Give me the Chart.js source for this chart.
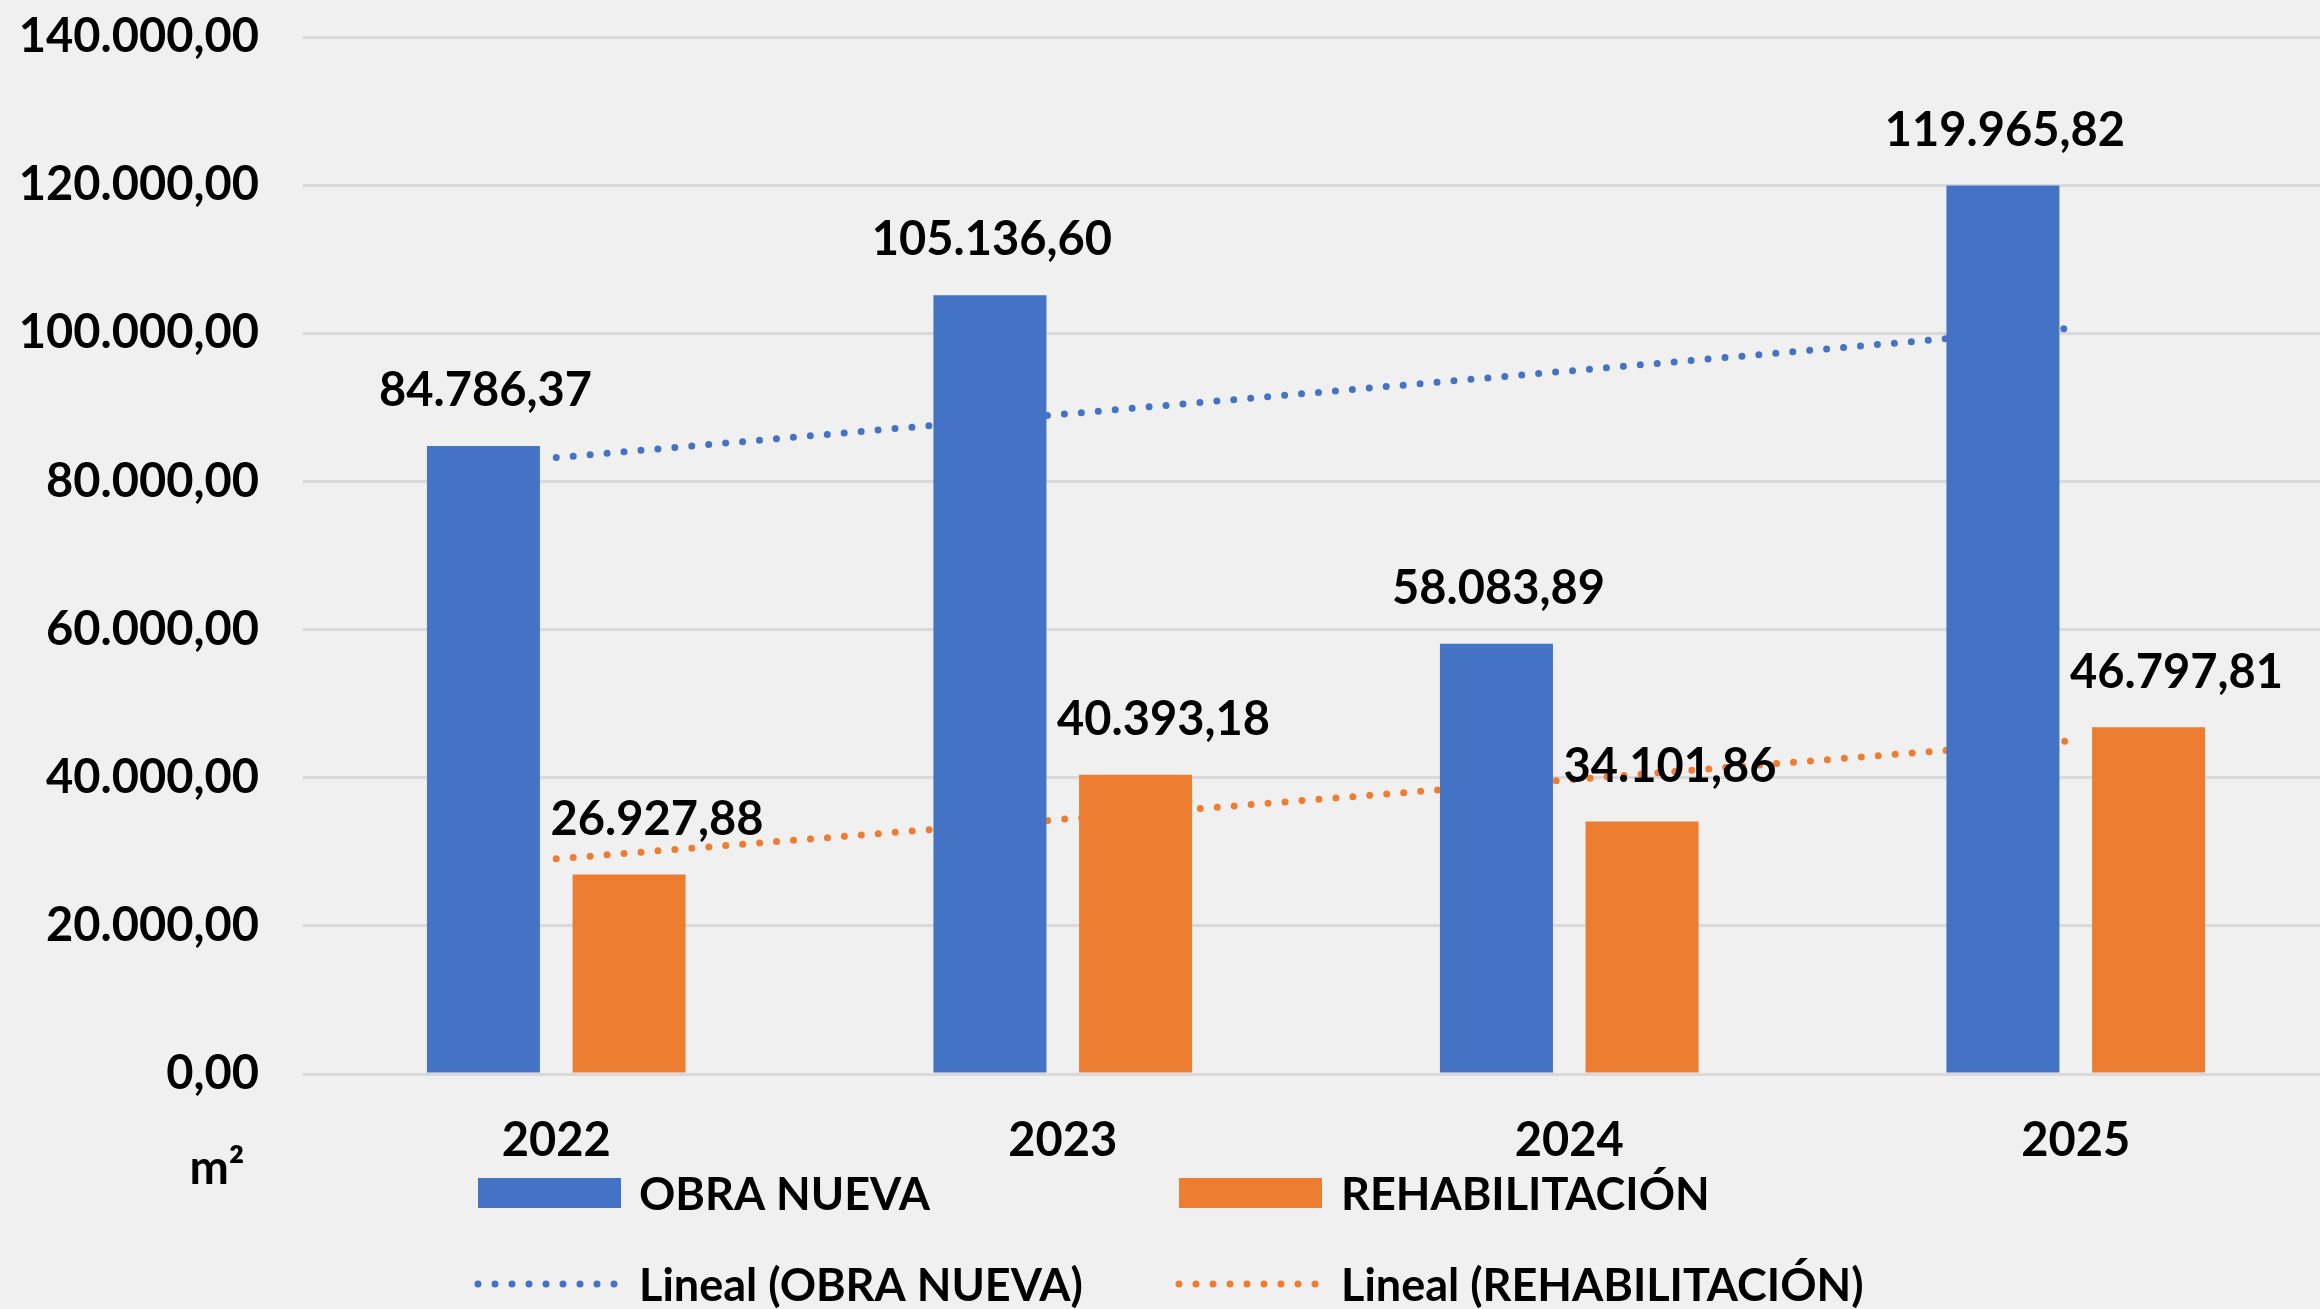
<!DOCTYPE html>
<html>
<head>
<meta charset="utf-8">
<script src="https://cdn.jsdelivr.net/npm/chart.js@4.4.1/dist/chart.umd.min.js"></script>
<style>
  html, body { margin: 0; padding: 0; background: #f0f0f0; overflow: hidden; }
  #wrap { width: 2320px; height: 1309px; position: relative; overflow: hidden; }
</style>
</head>
<body>
<div id="wrap"><canvas id="chart" width="2329" height="1309"></canvas></div>
<script>
const years = ['2022', '2023', '2024', '2025'];
const obraNueva = [84786.37, 105136.60, 58083.89, 119965.82];
const rehabilitacion = [26927.88, 40393.18, 34101.86, 46797.81];
// linear trend values
const trendObra = [83220, 89069, 94917, 100766];
const trendRehab = [29057, 34389, 39721, 45053];
const yTicks = [0, 20000, 40000, 60000, 80000, 100000, 120000, 140000];

const BLUE = '#4472c4';
const ORANGE = '#ed7d31';
const FONT = 'Lato';

function fmt(v) {
    let parts = v.toFixed(2).split('.');
    return parts[0].replace(/\B(?=(\d{3})+(?!\d))/g, '.') + ',' + parts[1];
}

const extras = {
    id: 'extras',
    afterDatasetsDraw(chart) {
        const ctx = chart.ctx;
        ctx.save();
        ctx.font = 'bold 47px ' + FONT;
        ctx.fillStyle = '#000';
        ctx.textAlign = 'center';
        ctx.textBaseline = 'middle';

        // value labels above bars
        [0, 1].forEach(function (di) {
            const meta = chart.getDatasetMeta(di);
            const dx = di == 0 ? 2 : 28;
            meta.data.forEach(function (bar, i) {
                ctx.fillText(fmt(chart.data.datasets[di].data[i]), bar.x + dx, bar.y - 55);
            });
        });

        // unit under the y axis
        ctx.fillText('m²', 217, 1169);

        // legend
        ctx.font = 'bold 45px ' + FONT;
        ctx.textAlign = 'left';
        const rows = [
            { y: 1193, items: [[478, 639, 'OBRA NUEVA', BLUE, 'box'], [1179, 1341, 'REHABILITACIÓN', ORANGE, 'box']] },
            { y: 1284, items: [[478, 639, 'Lineal (OBRA NUEVA)', BLUE, 'dots'], [1179, 1341, 'Lineal (REHABILITACIÓN)', ORANGE, 'dots']] }
        ];
        rows.forEach(function (row) {
            row.items.forEach(function (it) {
                if (it[4] == 'box') {
                    ctx.fillStyle = it[3];
                    ctx.fillRect(it[0], row.y - 15, 143, 30);
                } else {
                    ctx.strokeStyle = it[3];
                    ctx.lineWidth = 7;
                    ctx.lineCap = 'round';
                    ctx.setLineDash([0, 17]);
                    ctx.beginPath();
                    ctx.moveTo(it[0], row.y);
                    ctx.lineTo(it[0] + 143, row.y);
                    ctx.stroke();
                    ctx.setLineDash([]);
                }
                ctx.fillStyle = '#000';
                ctx.fillText(it[2], it[1], row.y + 2);
            });
        });
        ctx.restore();
    }
};

new Chart(document.getElementById('chart'), {
    type: 'bar',
    data: {
        labels: years,
        datasets: [
            {
                label: 'OBRA NUEVA',
                data: obraNueva,
                backgroundColor: BLUE,
                order: 1
            },
            {
                label: 'REHABILITACIÓN',
                data: rehabilitacion,
                backgroundColor: ORANGE,
                order: 1
            },
            {
                type: 'line',
                label: 'Lineal (OBRA NUEVA)',
                data: trendObra,
                borderColor: BLUE,
                borderWidth: 7,
                borderDash: [0, 17],
                borderCapStyle: 'round',
                pointRadius: 0,
                fill: false,
                order: 2
            },
            {
                type: 'line',
                label: 'Lineal (REHABILITACIÓN)',
                data: trendRehab,
                borderColor: ORANGE,
                borderWidth: 7,
                borderDash: [0, 17],
                borderCapStyle: 'round',
                pointRadius: 0,
                fill: false,
                order: 2
            }
        ]
    },
    options: {
        responsive: false,
        animation: false,
        categoryPercentage: 0.575,
        barPercentage: 0.776,
        layout: { padding: { top: 37, right: 0, bottom: 0, left: 0 } },
        plugins: {
            legend: { display: false },
            tooltip: { enabled: false }
        },
        scales: {
            x: {
                grid: { display: false },
                border: { display: false },
                ticks: {
                    color: '#000',
                    padding: 31,
                    font: { family: FONT, size: 47, weight: 'bold' }
                },
                afterFit: function (scale) { scale.height = 235; }
            },
            y: {
                min: 0,
                max: 140000,
                afterBuildTicks: function (scale) {
                    scale.ticks = yTicks.map(function (v) { return { value: v }; });
                },
                grid: { color: '#d9d9d9', lineWidth: 3, drawTicks: false },
                border: { display: false },
                ticks: {
                    color: '#000',
                    padding: 44,
                    font: { family: FONT, size: 47, weight: 'bold' },
                    callback: function (v) { return fmt(v); }
                },
                afterFit: function (scale) {
                    scale.width = 303;
                    scale.paddingTop = 0;
                    scale.paddingBottom = 0;
                }
            }
        }
    },
    plugins: [extras]
});
</script>
</body>
</html>
